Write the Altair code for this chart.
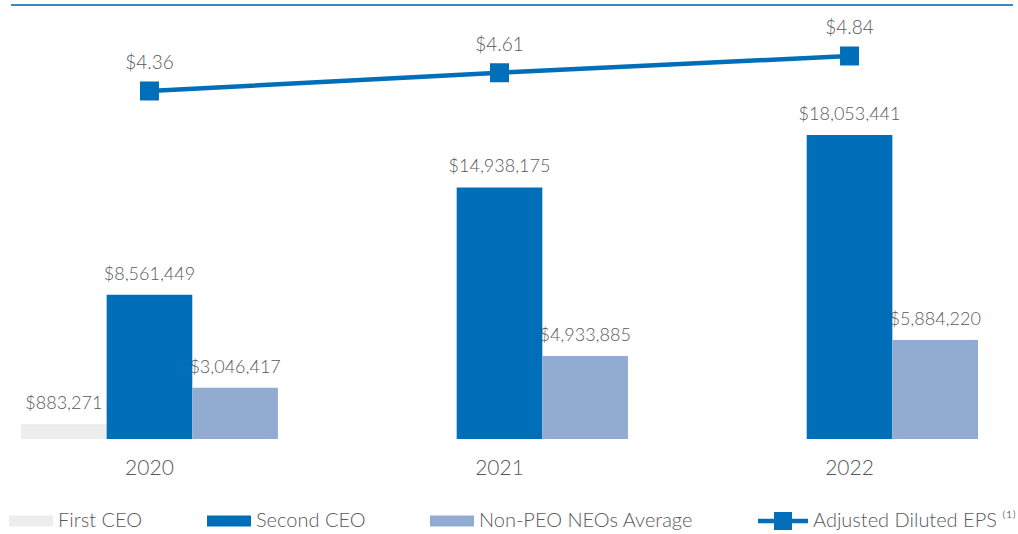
import altair as alt
import pandas as pd

# ---- data ----
years = ["2020", "2020", "2020", "2021", "2021", "2022", "2022"]
series = ["First CEO", "Second CEO", "Non-PEO NEOs Average",
          "Second CEO", "Non-PEO NEOs Average",
          "Second CEO", "Non-PEO NEOs Average"]
pay = [883271, 8561449, 3046417, 14938175, 4933885, 18053441, 5884220]

eps_years = ["2020", "2021", "2022"]
eps = [4.36, 4.61, 4.84]
eps_name = "Adjusted Diluted EPS \u207d\u00b9\u207e"

series_order = ["First CEO", "Second CEO", "Non-PEO NEOs Average"]
series_colors = ["#EDEDED", "#006EB8", "#92ABD0"]
line_color = "#006EB8"
text_color = "#58595B"
FONT = "Lato"
FW = 300

bars_df = pd.DataFrame({"year": years, "series": series, "pay": pay})
eps_df = pd.DataFrame({"year": eps_years, "eps": eps, "name": [eps_name] * 3})

x_scale = alt.Scale(paddingInner=0.266, paddingOuter=0)
y_bar = alt.Scale(domain=[0, 26070000], nice=False, zero=False)
y_eps = alt.Scale(domain=[-0.414, 5.608], nice=False, zero=False)

x_axis = alt.Axis(title=None, domain=False, ticks=False, labelAngle=0,
                  labelFontSize=21, labelColor=text_color, labelFont=FONT,
                  labelFontWeight=FW, labelPadding=18)
x_enc = alt.X("year:N", scale=x_scale, sort=eps_years, axis=x_axis)
xoff_enc = alt.XOffset("series:N", sort=series_order,
                       scale=alt.Scale(domain=series_order, paddingInner=0, paddingOuter=0))

bars = alt.Chart(bars_df).mark_bar().encode(
    x=x_enc,
    xOffset=xoff_enc,
    y=alt.Y("pay:Q", scale=y_bar, axis=None),
    color=alt.Color("series:N", sort=series_order,
                    scale=alt.Scale(domain=series_order, range=series_colors),
                    legend=alt.Legend(title=None, orient="none", legendX=-12, legendY=499,
                                      direction="horizontal", columnPadding=64,
                                      symbolType="M-1,-0.25H1V0.25H-1Z", symbolSize=1936,
                                      symbolStrokeWidth=0, labelFontSize=20,
                                      labelColor=text_color, labelFont=FONT,
                                      labelFontWeight=FW, labelOffset=5,
                                      labelLimit=400)),
)

bar_labels = alt.Chart(bars_df).mark_text(
    baseline="alphabetic", dy=-15, fontSize=18, color=text_color, font=FONT, fontWeight=FW
).encode(
    x=x_enc,
    xOffset=xoff_enc,
    y=alt.Y("pay:Q", scale=y_bar, axis=None),
    text=alt.Text("pay:Q", format="$,.0f"),
)

line = alt.Chart(eps_df).mark_line(color=line_color, strokeWidth=4.5).encode(
    x=x_enc,
    y=alt.Y("eps:Q", scale=y_eps, axis=None),
)

squares = alt.Chart(eps_df).mark_square(size=361, opacity=1, filled=True).encode(
    x=x_enc,
    y=alt.Y("eps:Q", scale=y_eps, axis=None),
    fill=alt.Fill("name:N", scale=alt.Scale(range=[line_color]),
                  legend=alt.Legend(title=None, orient="none", legendX=737, legendY=496,
                                    symbolType="M-1,-0.09H1V0.09H-1Z M-0.36,-0.36H0.36V0.36H-0.36Z",
                                    symbolSize=2500, symbolStrokeWidth=0,
                                    labelFontSize=20, labelColor=text_color,
                                    labelFont=FONT, labelFontWeight=FW,
                                    labelOffset=5, labelLimit=400)),
)

eps_labels = alt.Chart(eps_df).mark_text(
    baseline="alphabetic", dy=-22, fontSize=19, color=text_color, font=FONT, fontWeight=FW
).encode(
    x=x_enc,
    y=alt.Y("eps:Q", scale=y_eps, axis=None),
    text=alt.Text("eps:Q", format="$,.2f"),
)

top_rule = alt.Chart(eps_df).mark_rule(color="#3A87C3", strokeWidth=2).encode(
    x=alt.value(-10), x2=alt.value(992), y=alt.value(5)
)

bar_layer = alt.layer(bars, bar_labels)
eps_layer = alt.layer(line, squares, eps_labels)

chart = alt.layer(top_rule, bar_layer, eps_layer).resolve_scale(
    y="independent", color="independent", fill="independent"
).properties(
    width=957, height=439,
    padding={"left": 21, "top": 0, "right": 40, "bottom": 95},
    autosize=alt.AutoSizeParams(type="none"),
    background="white",
).configure_view(stroke=None)

chart.save("out.html", embed_options={"renderer": "svg", "actions": False})
